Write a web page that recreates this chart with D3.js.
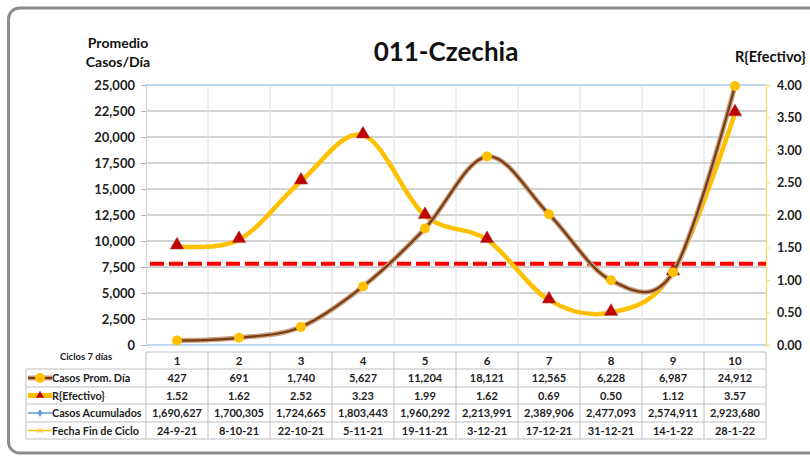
<!DOCTYPE html>
<html>
<head>
<meta charset="utf-8">
<script src="https://cdn.jsdelivr.net/npm/d3@7"></script>
<style>
  body { margin: 0; background: #fff; }
  svg { display: block; font-family: Lato, "Open Sans", sans-serif; }
</style>
</head>
<body>
<svg width="810" height="456"></svg>
<script>
// datos del grafico
var ciclos = ["1", "2", "3", "4", "5", "6", "7", "8", "9", "10"];
var casosProm = [427, 691, 1740, 5627, 11204, 18121, 12565, 6228, 6987, 24912];
var rEfectivo = [1.52, 1.62, 2.52, 3.23, 1.99, 1.62, 0.69, 0.50, 1.12, 3.57];
var casosAcum = [1690627, 1700305, 1724665, 1803443, 1960292, 2213991, 2389906, 2477093, 2574911, 2923680];
var fechas = ["24-9-21", "8-10-21", "22-10-21", "5-11-21", "19-11-21", "3-12-21", "17-12-21", "31-12-21", "14-1-22", "28-1-22"];
var ticksCasos = [0, 2500, 5000, 7500, 10000, 12500, 15000, 17500, 20000, 22500, 25000];
var ticksR = [0, 0.5, 1, 1.5, 2, 2.5, 3, 3.5, 4];
var umbralR = 1.25;

var svg = d3.select("svg");

// OJO: "top" es de window, no usar
var pLeft = 146, pRight = 766, pTop = 85, pBottom = 345;

var x = d3.scaleBand().domain(ciclos).range([pLeft, pRight]);
var y = d3.scaleLinear().domain([0, 25000]).range([pBottom, pTop]);
var yR = d3.scaleLinear().domain([0, 4]).range([pBottom, pTop]);

// marco exterior
svg.append("rect")
  .attr("x", 8.5).attr("y", 8)
  .attr("width", 830).attr("height", 445)
  .attr("rx", 11)
  .attr("fill", "#fff")
  .attr("stroke", "#8c8c8c")
  .attr("stroke-width", 3);

// titulo
svg.append("text")
  .attr("x", 446).attr("y", 61)
  .attr("text-anchor", "middle")
  .attr("font-size", 26).attr("font-weight", "bold")
  .attr("fill", "#111")
  .text("011-Czechia");

svg.append("text")
  .attr("x", 118).attr("y", 48)
  .attr("text-anchor", "middle")
  .attr("font-size", 14).attr("font-weight", "bold")
  .attr("fill", "#111")
  .text("Promedio");
svg.append("text")
  .attr("x", 118).attr("y", 67)
  .attr("text-anchor", "middle")
  .attr("font-size", 14).attr("font-weight", "bold")
  .attr("fill", "#111")
  .text("Casos/Día");

svg.append("text")
  .attr("x", 735).attr("y", 62)
  .attr("font-size", 14.5).attr("font-weight", "bold")
  .attr("fill", "#111")
  .text("R{Efectivo}");

// rejilla
var grid = svg.append("g");
grid.selectAll("line.h")
  .data(ticksCasos)
  .enter().append("line")
  .attr("x1", pLeft).attr("x2", pRight)
  .attr("y1", function(d) { return y(d); })
  .attr("y2", function(d) { return y(d); })
  .attr("stroke", function(d) { return (d === 0 || d === 25000) ? "#a9c8ea" : "#c4c4c4"; })
  .attr("stroke-width", 1.3);

grid.selectAll("line.v")
  .data(ciclos.slice(1))
  .enter().append("line")
  .attr("x1", function(d) { return x(d); })
  .attr("x2", function(d) { return x(d); })
  .attr("y1", pTop).attr("y2", pBottom)
  .attr("stroke", "#dcdcdc")
  .attr("stroke-width", 1);

// eje izquierdo
var ejeIzq = svg.append("g")
  .attr("transform", "translate(" + pLeft + ",0)")
  .call(d3.axisLeft(y).tickValues(ticksCasos).tickFormat(d3.format(",")).tickSize(5).tickPadding(6));
ejeIzq.select(".domain").attr("stroke", "#d0d0d0");
ejeIzq.selectAll(".tick line").attr("stroke", "#b0b0b0");
ejeIzq.selectAll("text")
  .attr("font-size", 13).attr("font-weight", "bold")
  .attr("fill", "#222").attr("font-family", "Lato, sans-serif");

// eje derecho
var ejeDer = svg.append("g")
  .attr("transform", "translate(" + pRight + ",0)")
  .call(d3.axisRight(yR).tickValues(ticksR).tickFormat(d3.format(".2f")).tickSize(4).tickPadding(7));
ejeDer.select(".domain").attr("stroke", "#ffd966").attr("stroke-width", 1.3);
ejeDer.selectAll(".tick line").attr("stroke", "#ffd966");
ejeDer.selectAll("text")
  .attr("font-size", 12.5).attr("font-weight", "bold")
  .attr("fill", "#222").attr("font-family", "Lato, sans-serif");

// linea de umbral
svg.append("line")
  .attr("x1", pLeft + 4).attr("x2", pRight)
  .attr("y1", yR(umbralR)).attr("y2", yR(umbralR))
  .attr("stroke", "#ff0000")
  .attr("stroke-width", 4)
  .attr("stroke-dasharray", "14,5");

var cx = function(i) { return x(ciclos[i]) + x.bandwidth() / 2; };

// serie R
var lineaR = d3.line()
  .x(function(d, i) { return cx(i); })
  .y(function(d) { return yR(d); })
  .curve(d3.curveCardinal.tension(0));

svg.append("path")
  .datum(rEfectivo)
  .attr("d", lineaR)
  .attr("fill", "none")
  .attr("stroke", "#ffc000")
  .attr("stroke-width", 4.5);

// serie casos
var lineaCasos = d3.line()
  .x(function(d, i) { return cx(i); })
  .y(function(d) { return y(d); })
  .curve(d3.curveCardinal.tension(0));

svg.append("path")
  .datum(casosProm)
  .attr("d", lineaCasos)
  .attr("fill", "none")
  .attr("stroke", "#c9a383")
  .attr("stroke-width", 5);
svg.append("path")
  .datum(casosProm)
  .attr("d", lineaCasos)
  .attr("fill", "none")
  .attr("stroke", "#7a3b10")
  .attr("stroke-width", 2.2);

var triangulo = d3.symbol().type(d3.symbolTriangle).size(80);

svg.append("g").selectAll("path")
  .data(rEfectivo)
  .enter().append("path")
  .attr("d", triangulo)
  .attr("transform", function(d, i) { return "translate(" + cx(i) + "," + (yR(d) - 1) + ")"; })
  .attr("fill", "#c00000")
  .attr("stroke", "#a05050")
  .attr("stroke-width", 0.5);

svg.append("g").selectAll("circle")
  .data(casosProm)
  .enter().append("circle")
  .attr("cx", function(d, i) { return cx(i); })
  .attr("cy", function(d) { return y(d); })
  .attr("r", 5)
  .attr("fill", "#ffc000");

// tabla de datos
var filas = [
  { nombre: "Casos Prom. Día", valores: casosProm.map(d3.format(",")) },
  { nombre: "R{Efectivo}", valores: rEfectivo.map(d3.format(".2f")) },
  { nombre: "Casos Acumulados", valores: casosAcum.map(d3.format(",")) },
  { nombre: "Fecha Fin de Ciclo", valores: fechas }
];
var rowY = [352, 369, 387, 404, 422, 439];
var legLeft = 26;
var gridColor = "#bfbfbf";

var tabla = svg.append("g");

// lineas horizontales
tabla.selectAll("line.h")
  .data(rowY)
  .enter().append("line")
  .attr("x1", function(d, i) { return i < 1 ? pLeft : legLeft; })
  .attr("x2", pRight)
  .attr("y1", function(d) { return d; })
  .attr("y2", function(d) { return d; })
  .attr("stroke", gridColor);

// lineas verticales
tabla.selectAll("line.v")
  .data(ciclos.concat(["fin"]))
  .enter().append("line")
  .attr("x1", function(d) { return d === "fin" ? pRight : x(d); })
  .attr("x2", function(d) { return d === "fin" ? pRight : x(d); })
  .attr("y1", rowY[0]).attr("y2", rowY[5])
  .attr("stroke", gridColor);
tabla.append("line")
  .attr("x1", legLeft).attr("x2", legLeft)
  .attr("y1", rowY[1]).attr("y2", rowY[5])
  .attr("stroke", gridColor);

tabla.append("text")
  .attr("x", 86).attr("y", 360)
  .attr("text-anchor", "middle")
  .attr("font-size", 9.5).attr("font-weight", "bold")
  .attr("fill", "#222")
  .text("Ciclos 7 días");

tabla.selectAll("text.cab")
  .data(ciclos)
  .enter().append("text")
  .attr("x", function(d, i) { return cx(i); })
  .attr("y", 365)
  .attr("text-anchor", "middle")
  .attr("font-size", 11.5).attr("font-weight", "bold")
  .attr("fill", "#222")
  .text(function(d) { return d; });

filas.forEach(function(f, j) {
  var yc = (rowY[j + 1] + rowY[j + 2]) / 2;
  tabla.append("g").selectAll("text")
    .data(f.valores)
    .enter().append("text")
    .attr("x", function(d, i) { return cx(i); })
    .attr("y", yc + 4)
    .attr("text-anchor", "middle")
    .attr("font-size", 11).attr("font-weight", "bold")
    .attr("fill", "#222")
    .text(function(d) { return d; });
  tabla.append("text")
    .attr("x", 52).attr("y", yc + 4)
    .attr("font-size", 10.8).attr("font-weight", "bold")
    .attr("fill", "#222")
    .text(f.nombre);
});

// simbolos de leyenda
function yFila(j) { return (rowY[j + 1] + rowY[j + 2]) / 2; }

tabla.append("line")
  .attr("x1", 28).attr("x2", 52).attr("y1", yFila(0)).attr("y2", yFila(0))
  .attr("stroke", "#c9a383").attr("stroke-width", 5);
tabla.append("line")
  .attr("x1", 28).attr("x2", 52).attr("y1", yFila(0)).attr("y2", yFila(0))
  .attr("stroke", "#7a3b10").attr("stroke-width", 2.2);
tabla.append("circle")
  .attr("cx", 40).attr("cy", yFila(0)).attr("r", 5).attr("fill", "#ffc000");

tabla.append("line")
  .attr("x1", 28).attr("x2", 52).attr("y1", yFila(1)).attr("y2", yFila(1))
  .attr("stroke", "#ffc000").attr("stroke-width", 5);
tabla.append("path")
  .attr("d", d3.symbol().type(d3.symbolTriangle).size(28))
  .attr("transform", "translate(40," + yFila(1) + ")")
  .attr("fill", "#c00000");

tabla.append("line")
  .attr("x1", 28).attr("x2", 52).attr("y1", yFila(2)).attr("y2", yFila(2))
  .attr("stroke", "#5b9bd5").attr("stroke-width", 1.5);
tabla.append("path")
  .attr("d", d3.symbol().type(d3.symbolDiamond).size(18))
  .attr("transform", "translate(40," + yFila(2) + ")")
  .attr("fill", "#5b9bd5");

tabla.append("line")
  .attr("x1", 28).attr("x2", 52).attr("y1", yFila(3)).attr("y2", yFila(3))
  .attr("stroke", "#ffc000").attr("stroke-width", 1.5);
tabla.append("path")
  .attr("d", d3.symbol().type(d3.symbolX).size(18))
  .attr("transform", "translate(40," + yFila(3) + ")")
  .attr("stroke", "#ffc000").attr("stroke-width", 1)
  .attr("fill", "none");
</script>
</body>
</html>
